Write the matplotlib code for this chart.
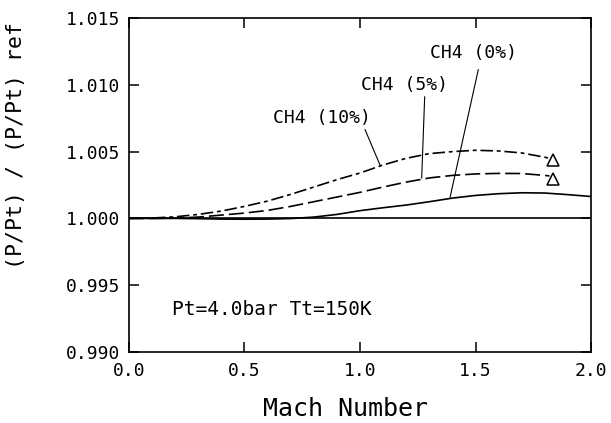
import matplotlib
matplotlib.use("Agg")
import matplotlib.pyplot as plt

plt.rcParams['font.family'] = ['DejaVu Sans Mono']

# Data
mach = [0.0, 0.1, 0.2, 0.3, 0.4, 0.5, 0.6, 0.7, 0.8, 0.9, 1.0,
        1.1, 1.2, 1.3, 1.4, 1.5, 1.6, 1.7, 1.8, 1.9, 2.0]
ratio_ref = [1.0] * len(mach)
ratio_ch4_0 = [1.0, 1.0, 1.0, 0.99998, 0.99995, 0.99994, 0.99995, 0.99999,
               1.00010, 1.00030, 1.00058, 1.00080, 1.00100, 1.00125, 1.00152,
               1.00172, 1.00185, 1.00192, 1.00190, 1.00178, 1.00164]

mach_mix = [0.0, 0.1, 0.2, 0.3, 0.4, 0.5, 0.6, 0.7, 0.8, 0.9, 1.0,
            1.1, 1.2, 1.3, 1.4, 1.5, 1.6, 1.7, 1.8, 1.82]
ratio_ch4_5 = [1.0, 1.0, 1.00002, 1.0001, 1.00025, 1.0004, 1.0006, 1.0009,
               1.00125, 1.0016, 1.00195, 1.00235, 1.00272, 1.00303, 1.00322,
               1.00333, 1.00337, 1.00336, 1.00322, 1.00318]
ratio_ch4_10 = [1.0, 1.00003, 1.00012, 1.0003, 1.00055, 1.0009, 1.0013, 1.0018,
                1.00235, 1.0029, 1.0034, 1.0040, 1.0045, 1.00485, 1.0050,
                1.0051, 1.00505, 1.0049, 1.00458, 1.0045]

marker_x = [1.835, 1.835]
marker_y = [1.00436, 1.00298]

fig = plt.figure(figsize=(6.11, 4.23), dpi=100)
ax = fig.add_axes([0.2111, 0.1678, 0.9673 - 0.2111, 0.9574 - 0.1678])

lw = 1.2
ax.plot(mach, ratio_ref, color='black', lw=lw)
ax.plot(mach, ratio_ch4_0, color='black', lw=lw)
ax.plot(mach_mix, ratio_ch4_5, color='black', lw=lw, dashes=(9, 3))
ax.plot(mach_mix, ratio_ch4_10, color='black', lw=lw, dashes=(7.5, 2.3, 2.3, 2.3))
ax.plot(marker_x, marker_y, linestyle='none', marker='^', markersize=8,
        markerfacecolor='white', markeredgecolor='black', markeredgewidth=1.1)

ax.set_xlim(0.0, 2.0)
ax.set_ylim(0.990, 1.015)
ax.set_xticks([0.0, 0.5, 1.0, 1.5, 2.0])
ax.set_yticks([0.990, 0.995, 1.000, 1.005, 1.010, 1.015])
ax.set_xticklabels(['0.0', '0.5', '1.0', '1.5', '2.0'])
ax.set_yticklabels(['0.990', '0.995', '1.000', '1.005', '1.010', '1.015'])
ax.tick_params(direction='in', length=7.5, width=1.1, labelsize=13,
               top=True, right=True, pad=6.5)
ax.tick_params(axis='x', pad=7)
for s in ax.spines.values():
    s.set_linewidth(1.2)

ax.set_xlabel('Mach Number', fontsize=18, va='baseline')
ax.xaxis.set_label_coords(0.468, -0.1916)
ax.set_ylabel('(P/Pt) / (P/Pt) ref', fontsize=15.5)
ax.yaxis.set_label_coords(-0.222, 0.617)

# Annotations
ax.text(0.834, 1.00748, 'CH4 (10%)', fontsize=13, ha='center', va='center')
ax.plot([1.022, 1.087], [1.00664, 1.00398], color='black', lw=0.8)
ax.text(1.193, 1.0100, 'CH4 (5%)', fontsize=13, ha='center', va='center')
ax.plot([1.28, 1.267], [1.0091, 1.00303], color='black', lw=0.8)
ax.text(1.49, 1.01238, 'CH4 (0%)', fontsize=13, ha='center', va='center')
ax.plot([1.512, 1.39], [1.01113, 1.00159], color='black', lw=0.8)

ax.text(0.185, 0.99320, 'Pt=4.0bar Tt=150K', fontsize=14, ha='left', va='center')

fig.savefig('out.png', dpi=100)
